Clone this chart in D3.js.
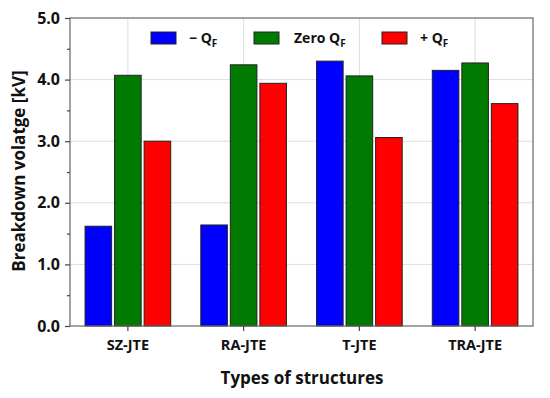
<!DOCTYPE html>
<head>
<meta charset="utf-8">
<script src="https://d3js.org/d3.v7.min.js"></script>
<style>
  body { margin: 0; background: #fff; }
  text { font-family: "Open Sans", sans-serif; font-weight: bold; fill: #111; }
</style>
</head>
<body>
<script>
  let structures = ["SZ-JTE", "RA-JTE", "T-JTE", "TRA-JTE"];
  let series = ["neg", "zero", "pos"];
  let neg_qf = [1.62, 1.64, 4.30, 4.15];
  let zero_qf = [4.07, 4.24, 4.06, 4.27];
  let pos_qf = [3.00, 3.94, 3.06, 3.61];
  let colors = ["#0000ff", "#007a00", "#ff0000"];
  let y_ticks = [0, 1, 2, 3, 4, 5];

  let width = 550, height = 398;
  let margin = {top: 18, right: 17, bottom: 72, left: 70};
  let plot_w = width - margin.left - margin.right;
  let plot_h = height - margin.top - margin.bottom;

  let values = [neg_qf, zero_qf, pos_qf];

  let svg = d3.select("body").append("svg")
    .attr("width", width).attr("height", height);

  let g = svg.append("g")
    .attr("transform", "translate(" + margin.left + "," + margin.top + ")");

  let x = d3.scaleBand().domain(structures).range([0, plot_w]).paddingInner(0.26).paddingOuter(0.13);
  let xs = d3.scaleBand().domain(series).range([0, x.bandwidth()]).paddingInner(0.1);
  let y = d3.scaleLinear().domain([0, 5]).range([plot_h, 0]);

  // grid
  g.selectAll(".hgrid").data(y_ticks.slice(1, 5)).enter().append("line")
    .attr("x1", 0).attr("x2", plot_w)
    .attr("y1", d => y(d)).attr("y2", d => y(d))
    .style("stroke", "#ddd").style("stroke-width", 1);
  g.selectAll(".vgrid").data(structures).enter().append("line")
    .attr("x1", d => x(d) + x.bandwidth() / 2).attr("x2", d => x(d) + x.bandwidth() / 2)
    .attr("y1", 0).attr("y2", plot_h)
    .style("stroke", "#ddd").style("stroke-width", 1);

  // bars
  series.forEach(function (s, i) {
    g.selectAll(".bar" + i).data(structures).enter().append("rect")
      .attr("x", d => x(d) + xs(s))
      .attr("width", xs.bandwidth())
      .attr("y", (d, j) => y(values[i][j]))
      .attr("height", (d, j) => plot_h - y(values[i][j]))
      .style("fill", colors[i])
      .style("stroke", "#222").style("stroke-width", 1);
  });

  // frame
  g.append("rect").attr("width", plot_w).attr("height", plot_h)
    .style("fill", "none").style("stroke", "#666").style("stroke-width", 1.2);

  // y axis
  let yAxis = g.append("g")
    .call(d3.axisLeft(y).tickValues(y_ticks).tickFormat(d3.format(".1f")).tickSize(5).tickPadding(5));
  g.append("g")
    .call(d3.axisLeft(y).tickValues(d3.range(0.5, 5, 1)).tickFormat("").tickSize(3));
  g.selectAll(".domain").remove();
  g.selectAll(".tick line").style("stroke", "#444").style("stroke-width", 1.2);
  yAxis.selectAll("text").style("font-size", "16px").style("font-family", "Open Sans").style("font-weight", "bold").style("fill", "#111");

  // x axis
  let xAxis = g.append("g")
    .attr("transform", "translate(0," + plot_h + ")")
    .call(d3.axisBottom(x).tickSize(5).tickPadding(9));
  xAxis.select(".domain").remove();
  xAxis.selectAll(".tick line").style("stroke", "#444").style("stroke-width", 1.2);
  xAxis.selectAll("text").style("font-size", "14.5px").style("font-family", "Open Sans").style("font-weight", "bold").style("fill", "#111");

  // axis titles
  svg.append("text")
    .attr("x", 302).attr("y", 384)
    .attr("text-anchor", "middle").style("font-size", "17px")
    .text("Types of structures");
  svg.append("text")
    .attr("transform", "translate(25,171) rotate(-90)")
    .attr("text-anchor", "middle").style("font-size", "17px")
    .text("Breakdown volatge [kV]");

  // legend
  let legend_x = [81, 184, 312];
  let legend_label = [["\u2212 Q", "F"], ["Zero Q", "F"], ["+ Q", "F"]];
  series.forEach(function (s, i) {
    let lg = g.append("g").attr("transform", "translate(" + legend_x[i] + ",14)");
    lg.append("rect").attr("width", 25).attr("height", 12)
      .style("fill", colors[i]).style("stroke", "#222").style("stroke-width", 1);
    let t = lg.append("text").attr("x", i === 1 ? 40 : 38).attr("y", 11).style("font-size", "14px");
    t.append("tspan").text(legend_label[i][0]);
    t.append("tspan").attr("dy", 4).style("font-size", "10px").text(legend_label[i][1]);
  });
</script>
</body>
